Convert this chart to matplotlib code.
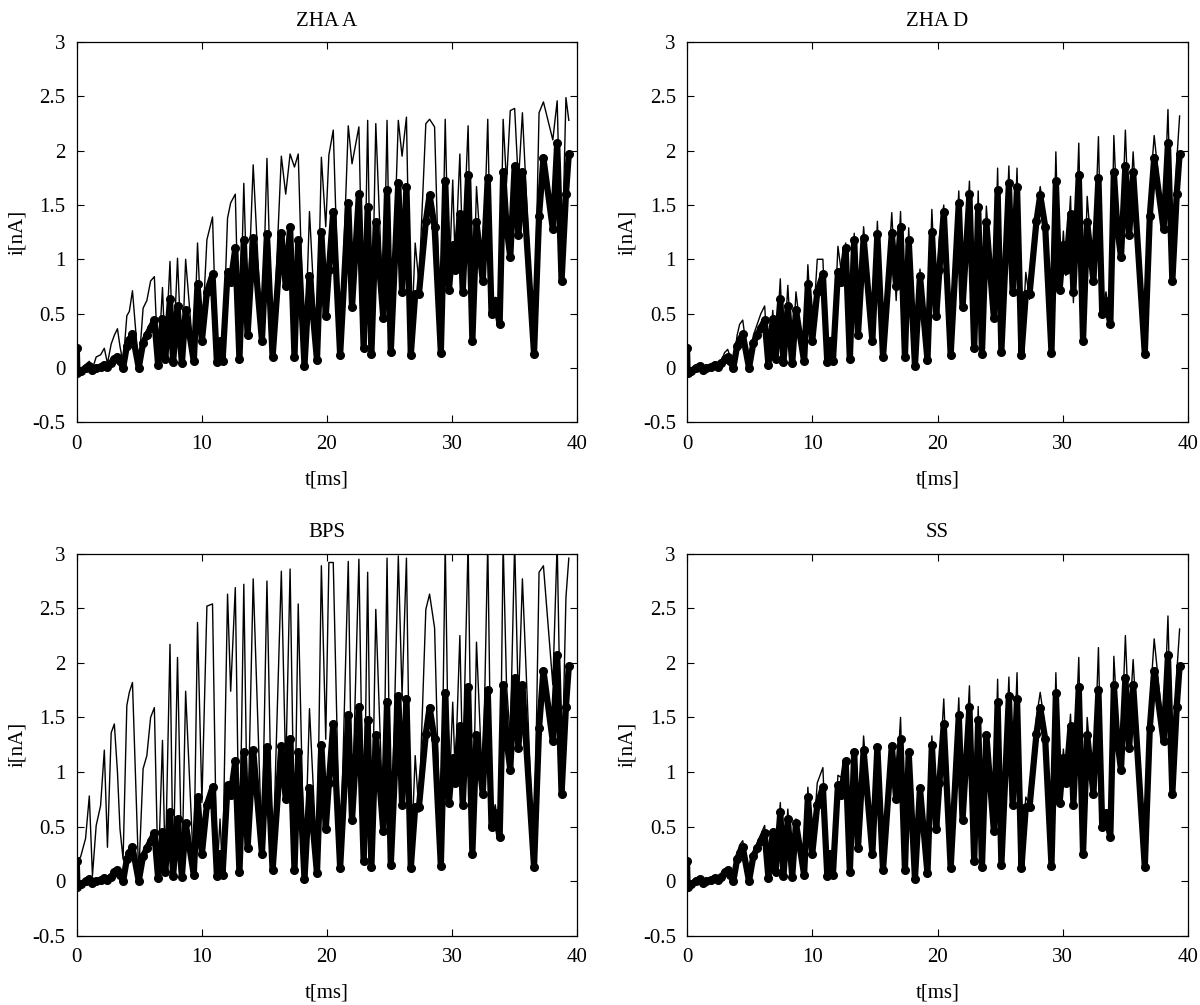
import matplotlib
matplotlib.use("Agg")
import matplotlib.pyplot as plt

# time instants (ms): peaks and troughs of the oscillation
t_ms = [
    0.0, 0.05, 0.3, 0.7, 1.0, 1.25, 1.55, 1.9, 2.2, 2.45,
    2.75, 3.0, 3.25, 3.45, 3.7, 4.0, 4.2, 4.45, 4.95, 5.3,
    5.6, 5.9, 6.2, 6.5, 6.85, 7.07, 7.45, 7.7, 8.05, 8.4,
    8.7, 9.35, 9.65, 10.0, 10.4, 10.85, 11.2, 11.45, 11.65, 12.05,
    12.3, 12.67, 13.0, 13.35, 13.65, 14.1, 14.8, 15.2, 15.65, 16.35,
    16.7, 17.05, 17.4, 17.7, 18.2, 18.6, 19.2, 19.55, 19.9, 20.15,
    20.5, 21.05, 21.7, 22.0, 22.55, 22.93, 23.25, 23.55, 23.9, 24.5,
    24.8, 25.1, 25.7, 26.0, 26.35, 26.7, 27.05, 27.35, 27.9, 28.2,
    28.6, 29.1, 29.45, 29.75, 30.05, 30.25, 30.62, 30.85, 31.28, 31.62,
    31.95, 32.45, 32.85, 33.15, 33.45, 33.8, 34.08, 34.35, 34.65, 35.0,
    35.3, 35.62, 36.55, 36.95, 37.3, 38.05, 38.4, 38.75, 39.1, 39.33,
]

# measured current (nA), same in all four panels
i_measured = [
    0.18, -0.05, -0.03, 0.0, 0.02, -0.02, 0.0, 0.01, 0.03, 0.01,
    0.04, 0.08, 0.1, 0.06, 0.0, 0.2, 0.26, 0.31, 0.0, 0.23,
    0.3, 0.37, 0.44, 0.03, 0.45, 0.08, 0.63, 0.05, 0.57, 0.04,
    0.53, 0.06, 0.77, 0.25, 0.7, 0.86, 0.05, 0.25, 0.06, 0.88,
    0.79, 1.1, 0.08, 1.18, 0.3, 1.2, 0.25, 1.23, 0.1, 1.24,
    0.75, 1.3, 0.1, 1.18, 0.02, 0.85, 0.07, 1.25, 0.48, 0.9,
    1.44, 0.12, 1.52, 0.56, 1.6, 0.18, 1.48, 0.13, 1.34, 0.46,
    1.64, 0.15, 1.7, 0.7, 1.67, 0.12, 0.68, 0.68, 1.35, 1.59,
    1.3, 0.14, 1.72, 0.72, 1.13, 0.9, 1.42, 0.7, 1.78, 0.25,
    1.34, 0.8, 1.75, 0.5, 0.62, 0.4, 1.8, 1.3, 1.02, 1.86,
    1.22, 1.8, 0.13, 1.4, 1.93, 1.28, 2.07, 0.8, 1.6, 1.97,
]

# model currents (nA)
i_zha_a = [
    0.18, -0.05, -0.03, 0.03, 0.06, -0.01, 0.1, 0.12, 0.18, 0.04,
    0.22, 0.3, 0.36, 0.2, 0.04, 0.48, 0.52, 0.71, 0.0, 0.55,
    0.62, 0.8, 0.84, 0.02, 0.74, 0.08, 0.98, 0.05, 1.01, 0.04,
    1.0, 0.07, 1.15, 0.25, 1.18, 1.39, 0.05, 0.22, 0.06, 1.38,
    1.52, 1.6, 0.08, 1.7, 0.5, 1.87, 0.25, 1.93, 0.1, 1.95,
    1.6, 1.97, 1.85, 1.97, 0.02, 1.44, 0.1, 1.94, 1.3, 1.96,
    2.19, 0.12, 2.23, 1.88, 2.22, 0.18, 2.28, 0.13, 2.25, 0.48,
    2.28, 0.15, 2.28, 1.95, 2.31, 0.12, 1.15, 0.78, 2.25, 2.29,
    2.22, 0.14, 2.29, 0.75, 1.73, 0.95, 1.97, 1.0, 2.23, 0.25,
    1.67, 0.8, 2.29, 0.55, 0.65, 0.4, 2.29, 1.7, 2.37, 2.39,
    1.7, 2.35, 0.13, 2.35, 2.45, 2.1, 2.46, 0.8, 2.49, 2.28,
]

i_zha_d = [
    0.18, -0.05, -0.03, 0.01, 0.03, -0.02, 0.01, 0.02, 0.04, 0.02,
    0.06, 0.14, 0.17, 0.1, 0.0, 0.3, 0.4, 0.44, 0.0, 0.3,
    0.4, 0.5, 0.57, 0.03, 0.53, 0.08, 0.82, 0.05, 0.76, 0.04,
    0.7, 0.06, 0.95, 0.25, 1.0, 1.0, 0.05, 0.28, 0.08, 1.12,
    0.9, 1.15, 0.08, 1.24, 0.3, 1.3, 0.25, 1.35, 0.1, 1.43,
    0.62, 1.44, 0.1, 1.29, 0.02, 0.91, 0.07, 1.46, 0.5, 1.2,
    1.5, 0.12, 1.63, 0.56, 1.72, 0.2, 1.63, 0.13, 1.49, 0.46,
    1.84, 0.15, 1.86, 0.66, 1.84, 0.12, 0.88, 0.63, 1.4, 1.67,
    1.35, 0.14, 1.99, 0.7, 1.26, 0.85, 1.58, 0.6, 2.07, 0.25,
    1.58, 0.82, 2.13, 0.51, 0.7, 0.4, 2.14, 1.4, 1.05, 2.19,
    1.25, 1.99, 0.13, 1.6, 2.14, 1.3, 2.38, 0.79, 1.9, 2.32,
]

i_bps = [
    0.15, 0.2, 0.22, 0.39, 0.78, 0.05, 0.51, 0.69, 1.2, 0.31,
    1.36, 1.44, 1.0, 0.48, 0.2, 1.61, 1.73, 1.82, 0.05, 1.03,
    1.15, 1.5, 1.59, 0.03, 1.29, 0.08, 2.17, 0.05, 2.05, 0.05,
    1.74, 0.07, 2.37, 0.72, 2.52, 2.54, 0.05, 0.57, 0.06, 2.63,
    1.74, 2.69, 0.1, 2.72, 0.4, 2.77, 0.3, 2.75, 0.1, 2.84,
    1.0, 2.86, 0.3, 2.54, 0.02, 1.58, 0.15, 2.89, 1.3, 2.92,
    2.92, 0.12, 2.93, 0.6, 2.95, 0.2, 2.83, 0.13, 2.49, 0.5,
    2.96, 0.15, 2.98, 1.7, 2.96, 0.12, 1.15, 0.63, 2.49, 2.63,
    2.32, 0.14, 3.1, 0.75, 1.64, 0.97, 2.25, 1.0, 3.1, 0.25,
    2.19, 0.8, 3.1, 0.55, 0.7, 0.4, 3.1, 1.8, 1.3, 3.1,
    1.6, 2.77, 0.13, 2.83, 2.89, 1.8, 3.1, 0.8, 2.6, 2.96,
]

i_ss = [
    0.18, -0.05, -0.03, 0.0, 0.02, -0.02, 0.0, 0.01, 0.03, 0.01,
    0.05, 0.09, 0.1, 0.06, 0.0, 0.25, 0.33, 0.37, 0.0, 0.25,
    0.35, 0.43, 0.51, 0.03, 0.42, 0.08, 0.72, 0.05, 0.66, 0.04,
    0.57, 0.06, 0.86, 0.25, 0.9, 1.04, 0.05, 0.25, 0.06, 0.97,
    0.95, 1.1, 0.08, 1.2, 0.3, 1.33, 0.25, 1.24, 0.1, 1.24,
    0.8, 1.5, 0.1, 1.15, 0.02, 0.78, 0.07, 1.33, 0.5, 0.95,
    1.67, 0.12, 1.68, 0.58, 1.79, 0.2, 1.6, 0.13, 1.36, 0.46,
    1.85, 0.15, 1.87, 0.75, 1.91, 0.12, 0.77, 0.7, 1.5, 1.73,
    1.4, 0.14, 1.91, 0.72, 1.21, 0.95, 1.53, 0.8, 2.05, 0.25,
    1.5, 0.8, 2.14, 0.52, 0.55, 0.4, 2.06, 1.5, 1.15, 2.25,
    1.4, 2.03, 0.13, 1.6, 2.22, 1.35, 2.43, 0.8, 1.9, 2.31,
]

titles = ["ZHA A", "ZHA D", "BPS", "SS"]
models = [i_zha_a, i_zha_d, i_bps, i_ss]

x_ticks = [0, 10, 20, 30, 40]
y_ticks = [-0.5, 0, 0.5, 1, 1.5, 2, 2.5, 3]
y_tick_labels = ["-0.5", "0", "0.5", "1", "1.5", "2", "2.5", "3"]

plt.rcParams["font.family"] = ["Liberation Serif", "DejaVu Serif"]
plt.rcParams["axes.unicode_minus"] = False

fig = plt.figure(figsize=(12, 10.05), dpi=100)

# axes boxes in figure fractions [left, bottom, width, height]
boxes = [
    [0.064, 0.580, 0.417, 0.378],
    [0.5725, 0.580, 0.4175, 0.378],
    [0.064, 0.069, 0.417, 0.380],
    [0.5725, 0.069, 0.4175, 0.380],
]

for box, title, model in zip(boxes, titles, models):
    ax = fig.add_axes(box)
    ax.plot(t_ms, model, color="black", linewidth=1.0, zorder=2)
    # measured data: thick dotted band
    ax.plot(t_ms, i_measured, color="black", linewidth=4.5, marker="o",
            markersize=5.5, solid_capstyle="round", solid_joinstyle="round",
            zorder=3)

    ax.set_xlim(0, 40)
    ax.set_ylim(-0.5, 3)
    ax.set_xticks(x_ticks)
    ax.set_yticks(y_ticks)
    ax.set_yticklabels(y_tick_labels)
    ax.tick_params(direction="in", top=True, right=True, length=5,
                   width=0.8, labelsize=15)
    ax.tick_params(axis="x", pad=9)
    ax.tick_params(axis="y", pad=8)
    for s in ax.spines.values():
        s.set_linewidth(0.9)

    ax.set_title(title, fontsize=15, pad=12)
    ax.set_xlabel("t[ms]", fontsize=15, labelpad=12)
    ax.set_ylabel("i[nA]", fontsize=15, labelpad=4)

plt.savefig("out.png", dpi=100)
